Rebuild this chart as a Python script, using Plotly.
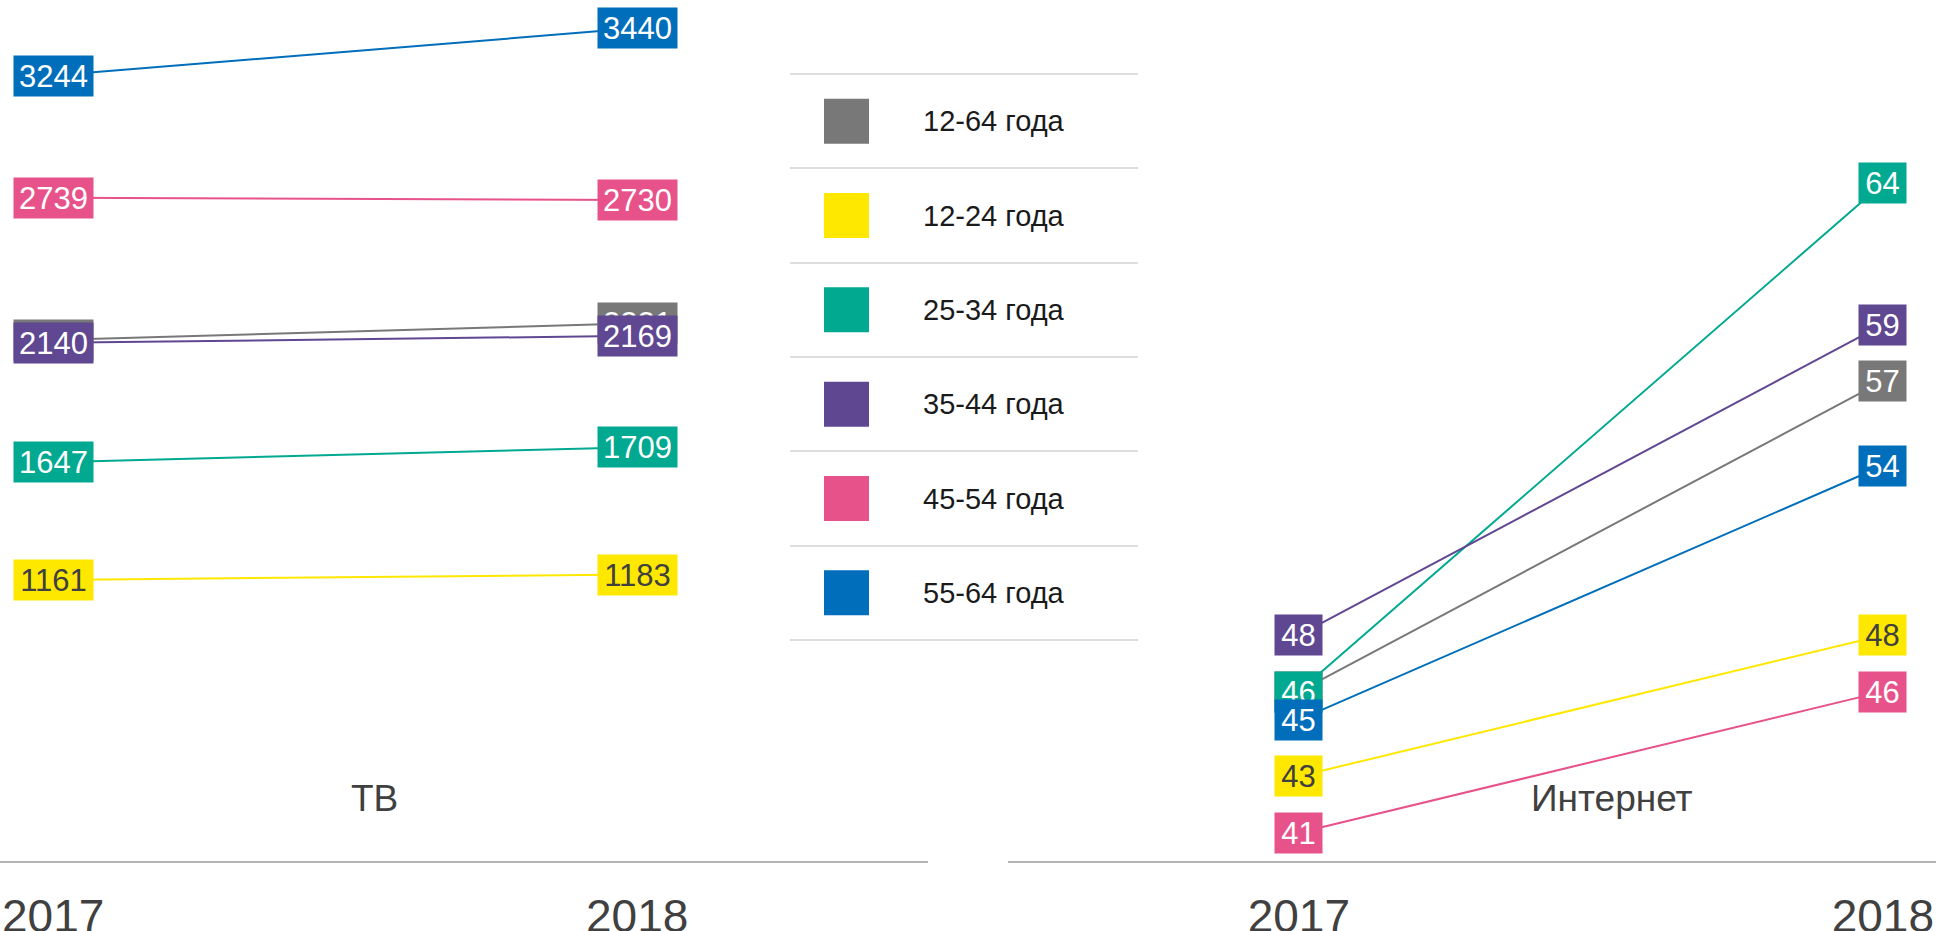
import plotly.graph_objects as go

# ---------------- data ----------------
years = [2017, 2018]
year_labels = ["2017", "2018"]
groups = ["12-64 года", "12-24 года", "25-34 года", "35-44 года", "45-54 года", "55-64 года"]
colors = ["#787878", "#FFE800", "#00A990", "#5F4792", "#E8528A", "#006EBA"]
label_colors = ["#FFFFFF", "#404040", "#FFFFFF", "#FFFFFF", "#FFFFFF", "#FFFFFF"]
tv_2017 = [2152, 1161, 1647, 2140, 2739, 3244]
tv_2018 = [2221, 1183, 1709, 2169, 2730, 3440]
web_2017 = [46, 43, 46, 48, 41, 45]
web_2018 = [57, 48, 64, 59, 46, 54]
panel_titles = ["ТВ", "Интернет"]

NARROW = "Liberation Sans Narrow, Arial Narrow, sans-serif"
REGULAR = "Liberation Sans, Arial, sans-serif"

W, H = 1936, 931
MB = 70
PH = H - MB

fig = go.Figure()

panels = [
    dict(xa="x", ya="y", v17=tv_2017, v18=tv_2018, boxw=79),
    dict(xa="x2", ya="y2", v17=web_2017, v18=web_2018, boxw=47),
]

annotations = []
for p in panels:
    for j, g in enumerate(groups):
        vals = [p["v17"][j], p["v18"][j]]
        fig.add_trace(go.Scatter(
            x=years, y=vals, mode="lines", xaxis=p["xa"], yaxis=p["ya"],
            line=dict(color=colors[j], width=2), showlegend=False, hoverinfo="skip"))
    for j, g in enumerate(groups):
        vals = [p["v17"][j], p["v18"][j]]
        for yr, v in zip(years, vals):
            annotations.append(dict(
                x=yr, y=v, xref=p["xa"], yref=p["ya"], text=str(v), showarrow=False,
                bgcolor=colors[j], width=p["boxw"], height=40, borderpad=0,
                font=dict(family=NARROW, size=31, color=label_colors[j]),
                align="center", valign="middle"))

# panel titles
annotations.append(dict(x=2017.55, xref="x", y=(PH - 821) / PH, yref="paper",
                        text=panel_titles[0], showarrow=False,
                        font=dict(family=NARROW, size=37, color="#404040")))
annotations.append(dict(x=2017.536, xref="x2", y=(PH - 821) / PH, yref="paper",
                        text=panel_titles[1], showarrow=False,
                        font=dict(family=NARROW, size=37, color="#404040")))

# legend panel (x3/y3)
leg_rows = [i + 0.5 for i in range(len(groups))]
fig.add_trace(go.Scatter(
    x=[56.5] * len(groups), y=leg_rows, mode="markers", xaxis="x3", yaxis="y3",
    marker=dict(symbol="square", size=45, color=colors, line=dict(width=0)),
    showlegend=False, hoverinfo="skip"))
for i, g in enumerate(groups):
    annotations.append(dict(x=131, y=leg_rows[i], xref="x3", yref="y3", text=g,
                            showarrow=False, xanchor="left",
                            font=dict(family=REGULAR, size=29, color="#1a1a1a")))

axis_common = dict(
    tickvals=years, ticktext=year_labels, showgrid=False, zeroline=False,
    showline=True, linecolor="#b4b4b4", linewidth=2,
    ticks="outside", ticklen=14, tickcolor="rgba(0,0,0,0)",
    tickfont=dict(family=NARROW, size=46, color="#404040"),
    fixedrange=True, automargin=False,
)

fig.update_layout(
    width=W, height=H,
    margin=dict(l=0, r=0, t=0, b=MB, autoexpand=False),
    paper_bgcolor="white", plot_bgcolor="white",
    showlegend=False,
    xaxis=dict(domain=[0, 928 / W], range=[2016.909, 2018.498], anchor="y", **axis_common),
    yaxis=dict(domain=[0, 1], range=[0, 3556], visible=False, anchor="x", automargin=False),
    xaxis2=dict(domain=[1008 / W, 1], range=[2016.502, 2018.091], anchor="y2", **axis_common),
    yaxis2=dict(domain=[0, 1], range=[40, 70.5], visible=False, anchor="x2", automargin=False),
    xaxis3=dict(domain=[790 / W, 1138 / W], range=[0, 348], visible=False, anchor="y3"),
    yaxis3=dict(domain=[(PH - 649.43) / PH, (PH - 64.57) / PH], range=[6.1, -0.1], anchor="x3",
                tickvals=list(range(len(groups) + 1)), showticklabels=False, ticks="",
                showgrid=True, gridcolor="#dedede", gridwidth=1.5, zeroline=False,
                showline=False, automargin=False),
    annotations=annotations,
)

fig.write_html("out.html", include_plotlyjs=True, config={"displayModeBar": False},
               post_script="document.body.style.margin='0';document.body.style.overflow='hidden';")
